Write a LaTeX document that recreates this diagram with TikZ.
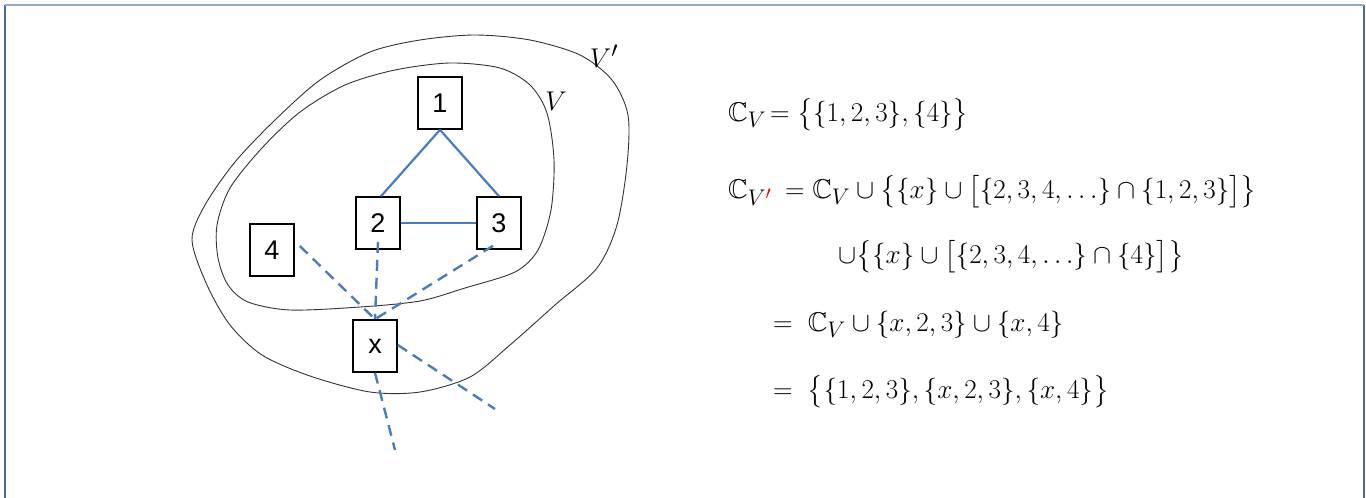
\documentclass[tikz,border=0pt]{standalone}
\usepackage{amsmath,amssymb,graphicx}
\usepackage{fontspec}
\newfontfamily\boxfont{Liberation Sans}
\usepackage{xcolor}
\definecolor{edgeblue}{HTML}{4A7EBB}
\definecolor{frametop}{HTML}{95AAC4}
\definecolor{frameside}{HTML}{4F6A92}
\newcommand{\eqs}[1]{\scalebox{1.09}{$#1$}}
\begin{document}
\begin{tikzpicture}[x=1pt,y=-1pt,
  vbox/.style={draw,line width=1.6pt,minimum width=44pt,minimum height=52pt,inner sep=0pt,font=\boxfont\fontsize{27}{30}\selectfont},
  solidedge/.style={draw=edgeblue,line width=2.2pt},
  dashedge/.style={draw=edgeblue,line width=2.4pt,dash pattern=on 11pt off 7pt},
  blob/.style={draw=black!80,line width=0.9pt},
  eq/.style={anchor=base west,inner sep=0pt,font=\fontsize{24.88}{30}\selectfont}]
\useasboundingbox (0,0) rectangle (1366,498);
% frame
\draw[frameside,line width=1.5pt] (5,498) -- (5,5);
\draw[frameside,line width=1.5pt] (1364,498) -- (1364,5);
\draw[frametop,line width=2pt] (5,5) -- (1364,5);
% blobs
\draw[blob] plot[smooth cycle] coordinates {
 (192,240) (205,205) (235,162) (275,120) (320,80) (370,52) (420,40) (475,35) (530,40)
 (580,55) (612,80) (628,115) (627,165) (617,225) (597,268) (555,305) (510,345)
 (470,377) (420,392) (370,392) (310,376) (262,355) (230,325) (207,285)};
\draw[blob] plot[smooth cycle] coordinates {
 (217,225) (230,188) (262,148) (300,112) (345,85) (395,70) (450,63) (500,68) (530,85)
 (547,113) (554,160) (551,210) (538,250) (515,272) (465,288) (420,301) (360,307)
 (290,310) (248,302) (228,285) (218,258)};
\node[inner sep=0pt,font=\fontsize{24.88}{30}\selectfont] (lVp) at (604,56) {\eqs{V'}};
\node[inner sep=0pt,font=\fontsize{24.88}{30}\selectfont] (lV) at (556,101) {\eqs{V}};
% vertices
\node[vbox] (n1) at (440,103) {1};
\node[vbox] (n2) at (378,223) {2};
\node[vbox] (n3) at (499,223) {3};
\node[vbox] (n4) at (272,250) {4};
\node[vbox] (nx) at (375,346) {x};
\coordinate (o1) at (495,409);
\coordinate (o2) at (395,450);
% edges
\draw[solidedge] (n1.south) -- ([xshift=3pt]n2.north);
\draw[solidedge] (n1.south) -- (n3.north);
\draw[solidedge] (n2.east) -- (n3.west);
\draw[dashedge] ([xshift=5pt,yshift=4pt]n4.east) -- (nx.north);
\draw[dashedge] ([yshift=8pt]n2.south) -- (nx.north);
\draw[dashedge] ([xshift=-6pt,yshift=4pt]n3.south) -- (nx.north);
\draw[dashedge] ([yshift=1pt]nx.east) -- (o1);
\draw[dashedge] (nx.south) -- (o2);
% equations
\node[eq] (e1l) at (728,121) {\eqs{\mathbb{C}_V}};
\node[eq] (e1r) at (770,121) {\eqs{=\bigl\{\{1,2,3\},\{4\}\bigr\}}};
\node[eq] (e2l) at (728,198) {\eqs{\mathbb{C}_{V{\color{red}'}}}};
\node[eq] (e2r) at (785,198) {\eqs{=\mathbb{C}_V\cup\bigl\{\{x\}\cup\bigl[\{2,3,4,\ldots\}\cap\{1,2,3\}\bigr]\bigr\}}};
\node[eq] (e3) at (838,263) {\eqs{\cup\bigl\{\{x\}\cup\bigl[\{2,3,4,\ldots\}\cap\{4\}\bigr]\bigr\}}};
\node[eq] (e4) at (773,331) {\eqs{=\;\mathbb{C}_V\cup\{x,2,3\}\cup\{x,4\}}};
\node[eq] (e5) at (773,398) {\eqs{=\;\bigl\{\{1,2,3\},\{x,2,3\},\{x,4\}\bigr\}}};
\end{tikzpicture}
\end{document}
